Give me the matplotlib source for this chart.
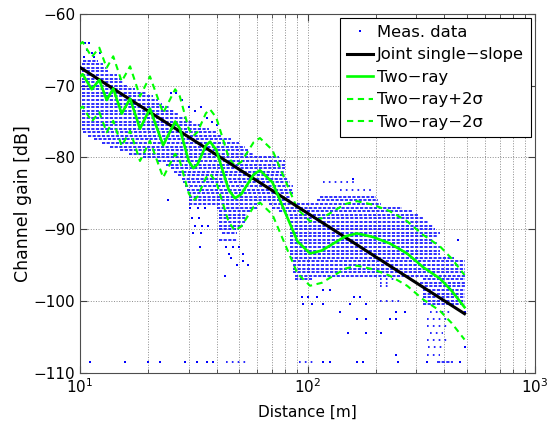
import matplotlib
matplotlib.use("Agg")
import matplotlib.pyplot as plt
from matplotlib.ticker import LogLocator, FixedLocator

plt.rcParams['font.family'] = ['DejaVu Sans']
plt.rcParams['font.size'] = 11

# ---------------- data ----------------
# Joint single-slope fit (two end points)
slope_x = [10.0, 490.0]
slope_y = [-67.45, -101.8]

# Two-ray model curve
tworay_x = [10.0, 10.27, 10.75, 11.26, 11.70, 12.16, 12.62, 13.1, 13.54, 14.0, 14.61,
            15.25, 15.91, 16.6, 17.46, 18.35, 19.30, 20.3, 21.70, 23.2, 24.65, 26.2,
            27.44, 28.73, 30.08, 31.5, 32.86, 34.28, 35.76, 37.3, 39.72, 42.31, 45.07,
            48.0, 51.14, 54.47, 58.02, 61.8, 70.15, 79.6, 90.36, 102.6, 115.5, 130.1,
            146.6, 165.0, 194.0, 230.0, 274.0, 322.0, 382.0, 430.0, 490.0]
tworay_y = [-68.7, -68.4, -69.45, -70.5, -69.85, -69.2, -70.6, -72.0, -71.2, -70.4, -72.15,
            -73.9, -72.85, -71.8, -73.9, -76.0, -74.6, -73.2, -75.75, -78.3, -76.65, -75.0,
            -75.95, -78.25, -80.55, -81.5, -80.96, -79.65, -78.34, -77.8, -78.95, -81.75, -84.55,
            -85.7, -85.13, -83.75, -82.37, -81.8, -83.49, -87.6, -91.71, -93.4, -92.99, -92.0,
            -91.01, -90.6, -91.1, -92.0, -93.4, -95.3, -96.9, -98.6, -100.9]
two_sigma = 4.5   # offset of the dashed +/-2 sigma curves [dB]

# Measurement data, dense rows of dots (level [dB], start [m], end [m])
row_level = [-66.5, -67.0, -67.5, -68.0, -68.5, -69.0, -69.5, -70.0, -70.5, -71.0,
             -71.5, -72.0, -72.5, -73.0, -73.5, -74.0, -74.5, -75.0, -75.5, -76.0,
             -76.5, -77.0, -77.5, -78.0, -78.5, -79.0, -79.5, -80.0, -80.5, -81.0,
             -81.5, -82.0, -82.5, -83.0, -83.5, -84.0, -84.5, -85.0, -85.5, -86.0,
             -86.5, -86.5, -87.0, -87.5, -88.0, -88.5, -89.0, -89.5, -90.0, -90.5, -91.5,
             -85.5, -86.0, -87.0, -87.5, -88.0, -88.5, -89.0, -89.5,
             -90.0, -90.5, -91.0, -91.5, -92.0, -92.5, -93.0, -93.5, -94.0, -94.5,
             -95.0, -95.5, -96.0, -96.5, -97.0, -97.0, -97.5, -98.0,
             -98.5, -99.0, -99.5, -100.0, -100.5, -108.5]
row_start = [10.3, 10.2, 10.2, 10.2, 10.2, 10.2, 10.2, 10.2, 10.2, 10.2,
             10.2, 10.2, 10.2, 10.2, 10.2, 10.2, 10.2, 10.2, 10.2, 10.2,
             10.3, 10.8, 11.5, 12.5, 13.5, 15.0, 16.5, 19.0, 22.0, 24.0,
             25.0, 26.0, 27.0, 28.0, 28.5, 29.0, 29.5, 29.8, 30.0, 30.0,
             30.0, 68.0, 40.0, 41.0, 41.0, 41.0, 41.0, 41.0, 41.0, 42.0, 41.0,
             113.0, 110.0, 70.0, 75.0, 80.0, 84.0, 84.0, 84.0,
             84.0, 84.0, 84.0, 84.0, 84.0, 84.0, 84.0, 84.0, 84.0, 86.0,
             86.0, 86.0, 86.0, 88.0, 88.0, 323.0, 312.0, 312.0,
             323.0, 323.0, 323.0, 323.0, 323.0, 370.0]
row_end = [12.0, 12.6, 13.0, 13.3, 14.5, 15.0, 15.5, 16.3, 17.5, 19.5,
           21.0, 22.0, 23.0, 24.5, 26.0, 27.0, 29.0, 31.0, 34.0, 37.0,
           40.0, 42.0, 46.0, 50.0, 53.0, 55.0, 58.0, 75.0, 80.0, 80.0,
           80.0, 80.0, 80.0, 82.0, 84.0, 86.0, 86.0, 86.0, 84.0, 84.0,
           62.0, 210.0, 60.0, 56.0, 54.0, 54.0, 53.0, 52.0, 50.0, 49.0, 49.0,
           200.0, 205.0, 260.0, 290.0, 305.0, 323.0, 340.0, 356.0,
           365.0, 382.0, 375.0, 356.0, 375.0, 382.0, 382.0, 382.0, 440.0, 490.0,
           490.0, 490.0, 490.0, 490.0, 105.0, 490.0, 490.0, 490.0,
           490.0, 490.0, 490.0, 490.0, 490.0, 436.0]

# Measurement data, sparse rows of dots (level [dB], start [m], end [m])
srow_level = [-83.5, -84.5, -97.0, -97.5, -98.0, -100.0, -101.5, -102.5, -103.5,
              -104.5, -105.5, -106.5, -107.5, -108.5, -108.5]
srow_start = [117.0, 139.0, 208.0, 208.0, 208.0, 208.0, 345.0, 335.0, 335.0,
              345.0, 335.0, 340.0, 335.0, 44.0, 92.0]
srow_end = [165.0, 194.0, 246.0, 230.0, 225.0, 255.0, 422.0, 422.0, 411.0,
            393.0, 411.0, 393.0, 382.0, 54.0, 106.0]

# Measurement data, isolated dots
pt_x = [10.5, 11.0, 10.7, 11.3, 12.2, 10.4, 11.5,
        25.0, 26.5, 28.0, 30.0, 32.0, 34.0, 36.0, 38.0, 40.0,
        24.4, 33.7, 43.5, 31.0, 33.5, 32.0, 34.5, 36.5, 31.5, 34.0, 30.5, 33.0, 35.5,
        44.0, 47.0, 50.0, 45.0, 52.0, 52.0, 49.0, 55.0, 46.0,
        158.0, 458.0, 95.0, 100.0, 110.0, 117.0, 125.0, 96.0, 105.0, 117.0, 139.0,
        165.0, 150.0, 153.0, 180.0, 160.0, 170.0, 246.0, 268.0, 490.0, 180.0, 230.0,
        246.0, 180.0, 210.0, 246.0, 490.0,
        11.1, 15.8, 19.9, 22.5, 28.9, 32.6, 36.1, 38.4, 117.0, 125.5,
        165.0, 175.6, 250.0, 335.0, 467.0]
pt_y = [-64.0, -64.0, -65.0, -65.5, -65.5, -66.0, -66.0,
        -71.0, -71.0, -72.0, -73.0, -73.5, -73.0, -74.5, -75.0, -75.5,
        -86.0, -92.5, -96.5, -88.5, -88.5, -89.5, -89.5, -89.5, -90.5, -90.5, -87.0, -87.0, -87.0,
        -92.5, -92.5, -92.5, -93.5, -93.5, -94.5, -95.0, -95.0, -94.0,
        -83.0, -91.5, -99.5, -99.5, -99.5, -98.5, -98.5, -100.5, -100.5, -100.5, -101.5,
        -102.5, -104.5, -100.5, -100.5, -99.5, -99.5, -101.5, -101.5, -101.5, -102.5, -102.5,
        -102.5, -104.5, -104.5, -107.5, -106.5,
        -108.5, -108.5, -108.5, -108.5, -108.5, -108.5, -108.5, -108.5, -108.5, -108.5,
        -108.5, -108.5, -108.5, -108.5, -108.5]

x_ticks = [10, 100, 1000]
y_ticks = [-110, -100, -90, -80, -70, -60]

# ---------------- figure ----------------
fig = plt.figure(figsize=(5.47, 4.23), dpi=100)
ax = fig.add_axes([80 / 547, (423 - 372.5) / 423, 455 / 547, 358.5 / 423])
ax.set_xscale('log')

blue = (0.0, 0.0, 1.0)
ax.hlines(row_level, row_start, row_end, colors=[blue], linestyles=[(0, (2.0, 0.9))],
          linewidth=1.15, zorder=2)
ax.hlines(srow_level, srow_start, srow_end, colors=[blue], linestyles=[(0, (1.0, 2.5))],
          linewidth=1.2, zorder=2)
ax.plot(pt_x, pt_y, 's', color=blue, ms=1.6, mew=0, zorder=2, label='Meas. data')

ax.plot(slope_x, slope_y, '-', color='black', lw=2.2, zorder=4, label='Joint single\u2212slope')
ax.plot(tworay_x, tworay_y, '-', color=(0, 1, 0), lw=1.9, zorder=5, label='Two\u2212ray')
up = [v + two_sigma for v in tworay_y]
lo = [v - two_sigma for v in tworay_y]
ax.plot(tworay_x, up, '--', color=(0, 1, 0), lw=1.5, dashes=(3, 2.2), zorder=3,
        label='Two\u2212ray+2\u03c3')
ax.plot(tworay_x, lo, '--', color=(0, 1, 0), lw=1.5, dashes=(3, 2.2), zorder=3,
        label='Two\u2212ray\u22122\u03c3')

ax.set_xlim(10, 1000)
ax.set_ylim(-110, -60)
ax.set_xticks(x_ticks)
ax.xaxis.set_minor_locator(LogLocator(base=10, subs=range(2, 10)))
ax.yaxis.set_major_locator(FixedLocator(y_ticks))
ax.grid(True, which='major', ls=':', color='0.55', lw=0.7)
ax.xaxis.grid(True, which='minor', ls=':', color='0.55', lw=0.7)
ax.set_axisbelow(True)
ax.tick_params(which='both', direction='in', top=True, right=True, colors='0.25',
               labelcolor='black', labelsize=11)
ax.tick_params(which='major', length=5)
ax.tick_params(which='minor', length=3)
for s in ax.spines.values():
    s.set_color('0.3')
    s.set_linewidth(0.8)

ax.set_xlabel('Distance [m]', fontsize=11, labelpad=6)
ax.set_ylabel('Channel gain [dB]', fontsize=12.5)
ax.yaxis.set_label_coords(-0.1055, 0.47)

leg = ax.legend(loc='upper right', bbox_to_anchor=(0.991, 0.989), borderaxespad=0,
                fancybox=False, framealpha=1, edgecolor='black', fontsize=11.8,
                handlelength=1.6, handletextpad=0.25, labelspacing=0.46, borderpad=0.42,
                numpoints=1, markerscale=1.0)
leg.get_frame().set_linewidth(0.8)

fig.savefig('out.png', dpi=100)
